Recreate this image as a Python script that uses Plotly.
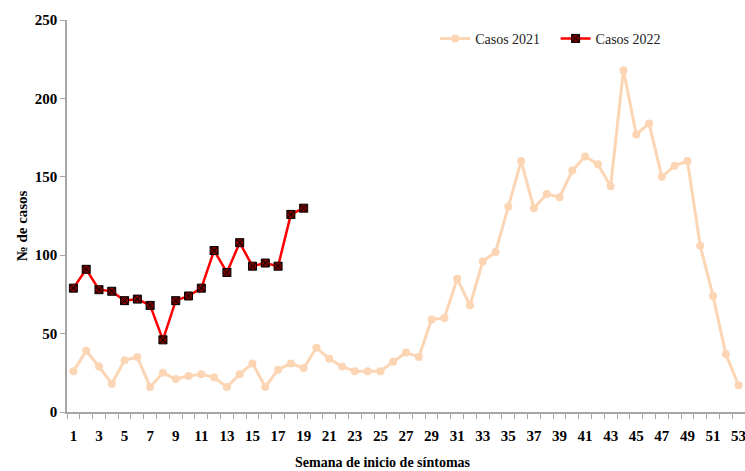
import plotly.graph_objects as go

weeks_2021 = list(range(1, 54))
casos_2021 = [26, 39, 29, 18, 33, 35, 16, 25, 21, 23, 24, 22, 16, 24, 31, 16, 27, 31, 28, 41,
              34, 29, 26, 26, 26, 32, 38, 35, 59, 60, 85, 68, 96, 102, 131, 160, 130, 139, 137, 154,
              163, 158, 144, 218, 177, 184, 150, 157, 160, 106, 74, 37, 17]
weeks_2022 = list(range(1, 20))
casos_2022 = [79, 91, 78, 77, 71, 72, 68, 46, 71, 74, 79, 103, 89, 108, 93, 95, 93, 126, 130]
x_tick_vals = list(range(1, 54, 2))
y_tick_vals = [0, 50, 100, 150, 200, 250]

font_family = "Liberation Serif"

fig = go.Figure()
fig.add_trace(go.Scatter(
    x=weeks_2021, y=casos_2021, name="Casos 2021\u00a0\u00a0\u00a0", mode="lines+markers",
    line=dict(color="#FCD5B4", width=3),
    marker=dict(symbol="circle", size=8, color="#FCD5B4"),
    cliponaxis=False,
))
fig.add_trace(go.Scatter(
    x=weeks_2022, y=casos_2022, name="Casos 2022", mode="lines+markers",
    line=dict(color="#FF0000", width=2.5),
    marker=dict(symbol="square-x", size=8, color="#7A0000", line=dict(color="#000000", width=1)),
    cliponaxis=False,
))

fig.update_layout(
    width=745, height=471,
    margin=dict(l=67, r=0, t=20, b=59, autoexpand=False),
    paper_bgcolor="white", plot_bgcolor="white",
    font=dict(family=font_family, size=15, color="#000000"),
    showlegend=True,
    legend=dict(orientation="h", x=0.543, y=0.952, xanchor="left", yanchor="middle",
                font=dict(family=font_family, size=14, color="#222222"),
                bgcolor="rgba(0,0,0,0)", itemwidth=30, tracegroupgap=0),
    annotations=[
        dict(text="<b>Semana de inicio de síntomas</b>", xref="paper", yref="paper",
             x=0.466, y=-0.128, xanchor="center", yanchor="middle", showarrow=False,
             font=dict(family=font_family, size=14)),
        dict(text="<b>№ de casos</b>", xref="paper", yref="paper",
             x=-0.066, y=0.474, xanchor="center", yanchor="middle", showarrow=False,
             textangle=-90, font=dict(family=font_family, size=15)),
    ],
)
fig.update_xaxes(
    range=[0.5, 53.5], tickmode="array", tickvals=x_tick_vals,
    ticktext=[f"<b>{v}</b>" for v in x_tick_vals],
    ticks="outside", ticklen=9, tickcolor="rgba(0,0,0,0)",
    showline=True, linecolor="#A6A6A6", linewidth=1.5, showgrid=False, zeroline=False,
    minor=dict(ticks="outside", tick0=0.5, dtick=1, ticklen=5, tickcolor="#A6A6A6", showgrid=False),
    tickfont=dict(family=font_family, size=15), automargin=False,
    ticklabeloverflow="allow",
)
fig.update_yaxes(
    range=[0, 250], tickmode="array", tickvals=y_tick_vals,
    ticktext=[f"<b>{v}</b>" for v in y_tick_vals],
    ticks="outside", ticklen=5, tickcolor="#A6A6A6",
    showline=True, linecolor="#A6A6A6", linewidth=1.5, showgrid=False, zeroline=False,
    tickfont=dict(family=font_family, size=15), automargin=False,
)

fig.write_html(
    "out.html",
    config={"displayModeBar": False},
    post_script="document.body.style.margin='0';document.body.style.overflow='hidden';",
)
